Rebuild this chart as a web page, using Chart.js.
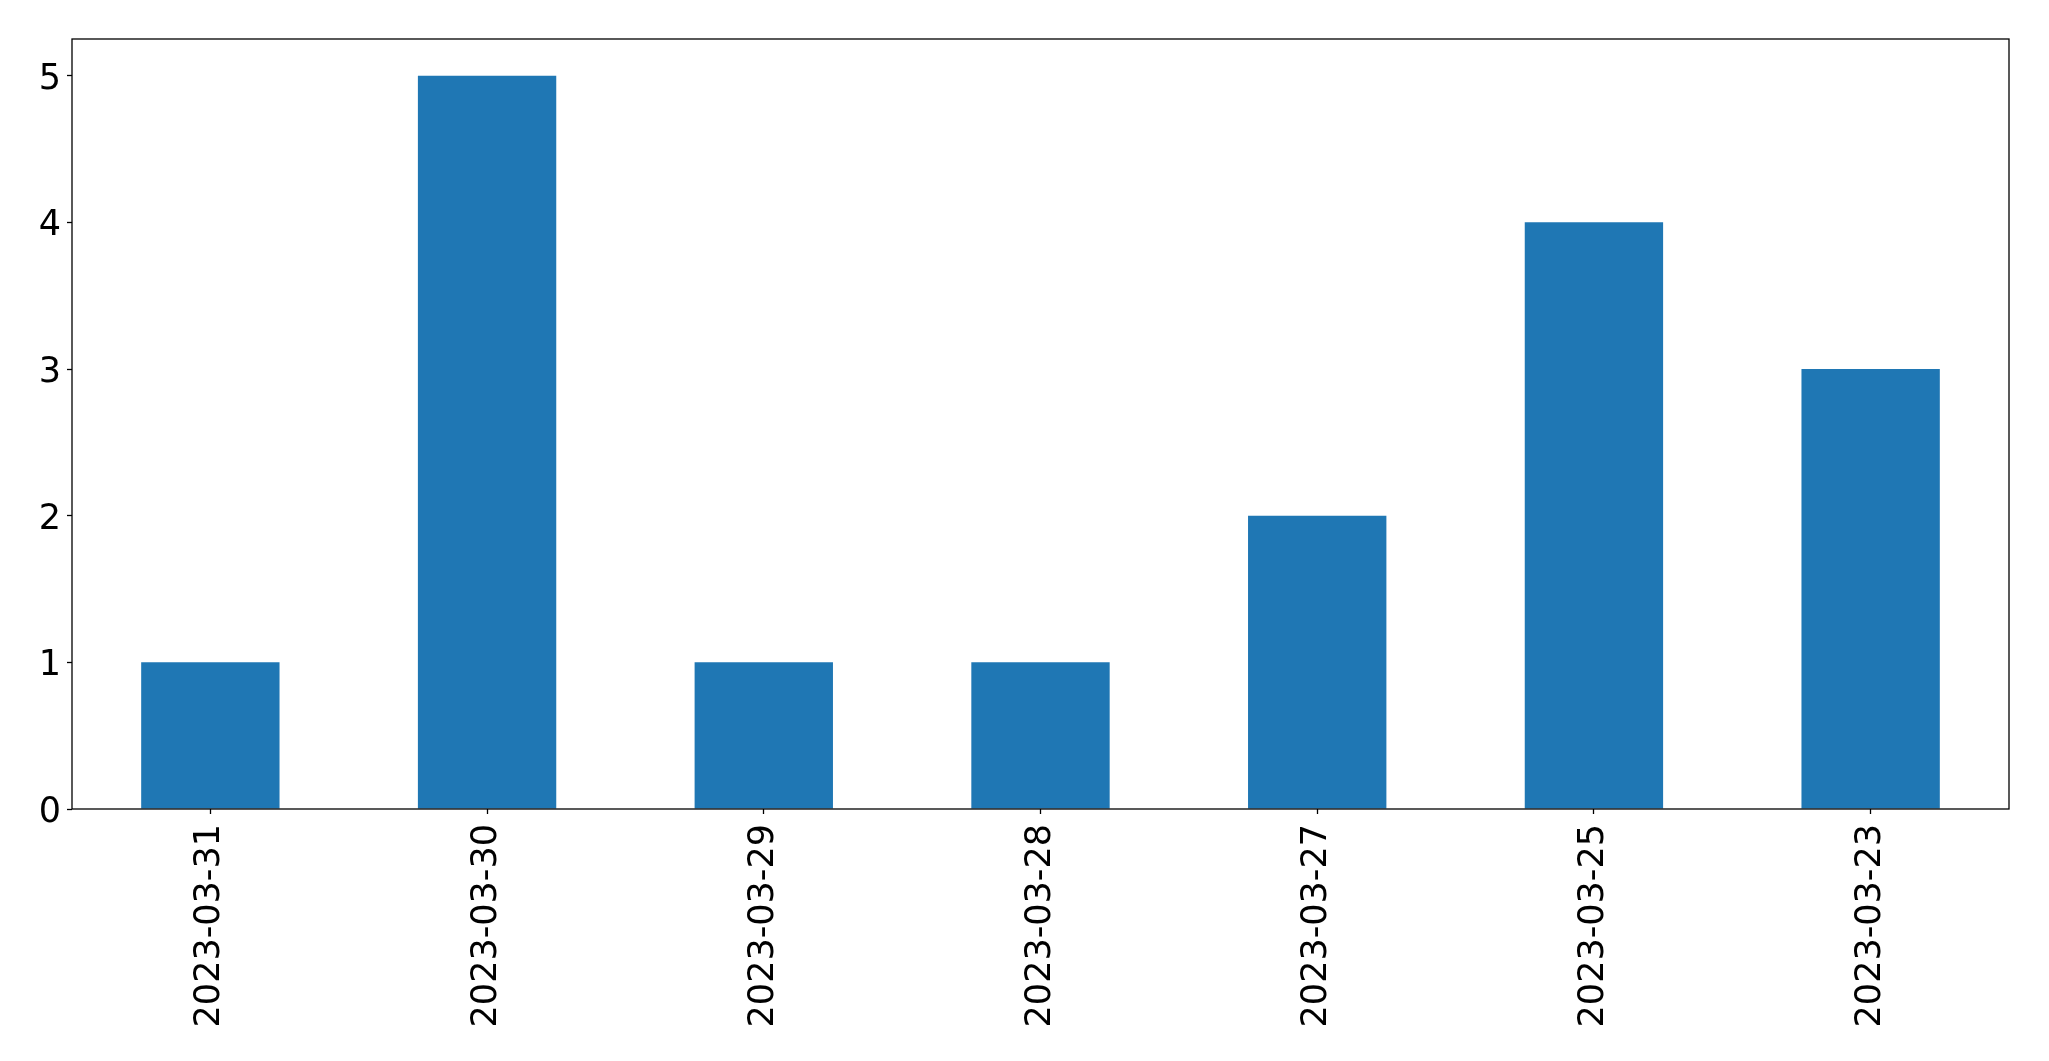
<!DOCTYPE html>
<html lang="en">
<head>
    <meta charset="UTF-8">
    <title>Counts per day</title>
    <script src="https://cdn.jsdelivr.net/npm/chart.js"></script>
    <style>
        html, body { margin: 0; padding: 0; background: #fff; }
        #wrap { width: 2049px; height: 1061px; }
    </style>
</head>
<body>
    <div id="wrap"><canvas id="Chart" width="2049" height="1061"></canvas></div>
    <script>
        const days = ['2023-03-31', '2023-03-30', '2023-03-29', '2023-03-28', '2023-03-27', '2023-03-25', '2023-03-23'];
        const counts = [1, 5, 1, 1, 2, 4, 3];
        const yTicks = [0, 1, 2, 3, 4, 5];

        // box round the plot area, like matplotlib's spines
        const frame = {
            id: 'frame',
            afterDraw(chart) {
                const a = chart.chartArea;
                const ctx = chart.ctx;
                ctx.save();
                ctx.strokeStyle = '#000';
                ctx.lineWidth = 1.3;
                ctx.strokeRect(a.left, a.top, a.right - a.left, a.bottom - a.top);
                ctx.restore();
            }
        };

        const font = { family: 'DejaVu Sans', size: 35 };

        new Chart(document.getElementById('Chart').getContext('2d'), {
            type: 'bar',
            data: {
                labels: days,
                datasets: [{
                    data: counts,
                    backgroundColor: '#1f77b4',
                    borderWidth: 0,
                    categoryPercentage: 1.0,
                    barPercentage: 0.5
                }]
            },
            options: {
                responsive: false,
                animation: false,
                layout: { padding: { top: 39, right: 40, left: 0, bottom: 0 } },
                plugins: { legend: { display: false }, tooltip: { enabled: false } },
                scales: {
                    x: {
                        afterFit(s) { s.height = 252; },
                        grid: { offset: false, drawOnChartArea: false, drawTicks: true, tickLength: 5, color: '#000', tickWidth: 1.3 },
                        border: { display: false },
                        ticks: { color: '#000', font: font, minRotation: 90, maxRotation: 90, padding: 10, autoSkip: false }
                    },
                    y: {
                        min: 0,
                        max: 5.25,
                        afterFit(s) { s.width = 72; },
                        afterBuildTicks(s) { s.ticks = yTicks.map(v => ({ value: v })); },
                        grid: { drawOnChartArea: false, drawTicks: true, tickLength: 5, color: '#000', tickWidth: 1.3 },
                        border: { display: false },
                        ticks: { color: '#000', font: font, padding: 6, labelOffset: 4 }
                    }
                }
            },
            plugins: [frame]
        });
    </script>
</body>
</html>
